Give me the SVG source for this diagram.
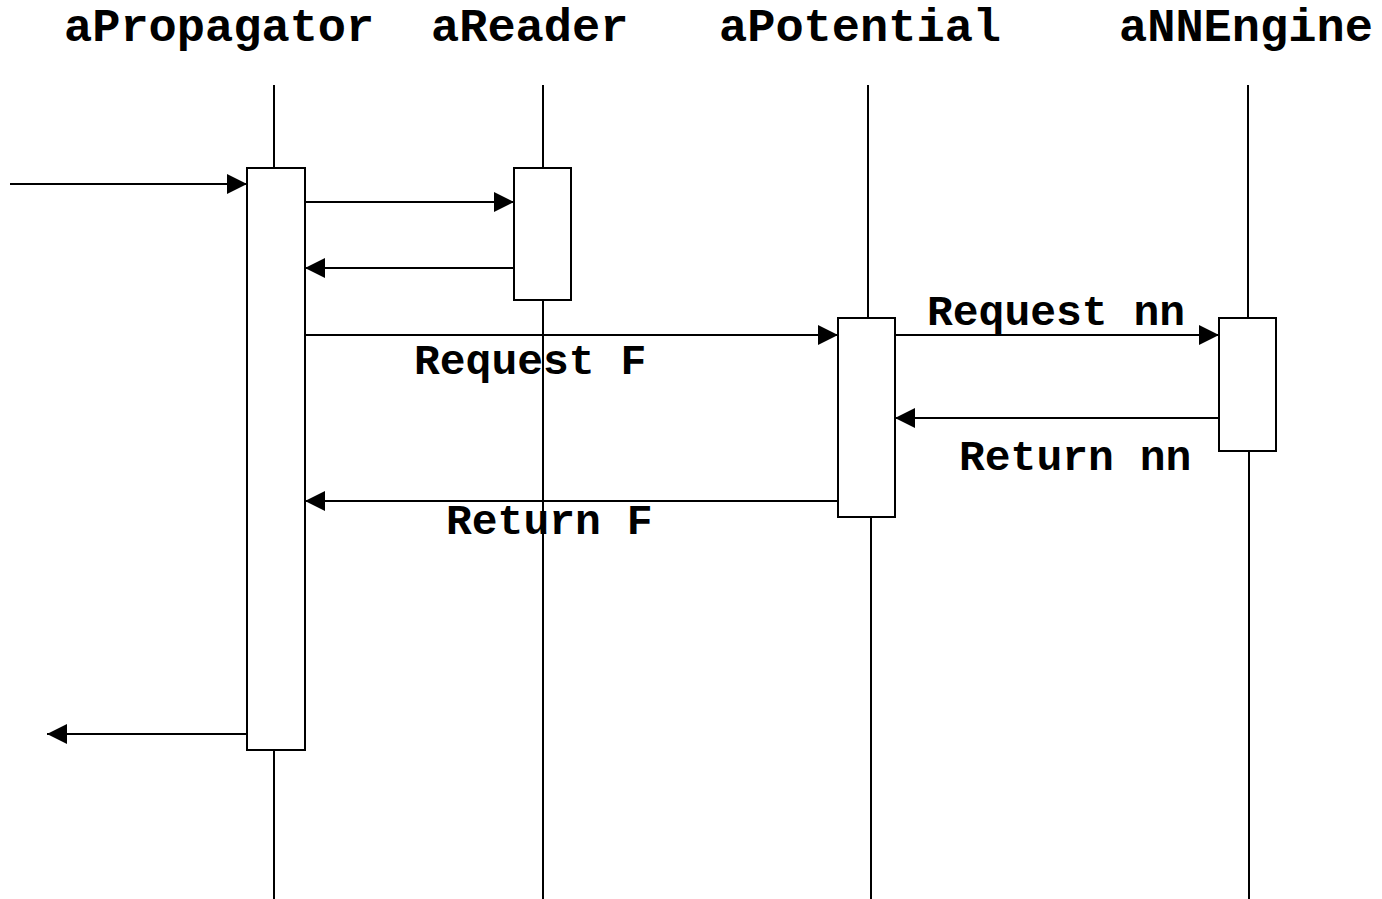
<svg xmlns="http://www.w3.org/2000/svg" width="1382" height="899" viewBox="0 0 1382 899">
  <style>
    .head { font-family: "Liberation Mono", "Courier New", monospace; font-weight: bold; font-size: 47px; fill: #000; }
    .lbl { font-family: "Liberation Mono", "Courier New", monospace; font-weight: bold; font-size: 43px; fill: #000; }
    .life { stroke: #000; stroke-width: 2; fill: none; }
    .act { stroke: #000; stroke-width: 2; fill: #fff; }
    .msg { stroke: #000; stroke-width: 2; fill: none; marker-end: url(#arrow); }
  </style>
  <defs>
    <marker id="arrow" viewBox="0 0 20 20" refX="20" refY="10" markerWidth="20" markerHeight="20" markerUnits="userSpaceOnUse" orient="auto">
      <path d="M0,0 L20,10 L0,20 Z" fill="#000"/>
    </marker>
  </defs>
  <rect width="1382" height="899" fill="#fff"/>

  <!-- lifelines -->
  <g id="lifelines">
    <line class="life" x1="274" y1="85" x2="274" y2="168"/>
    <line class="life" x1="274" y1="750" x2="274" y2="899"/>
    <line class="life" x1="543" y1="85" x2="543" y2="899"/>
    <line class="life" x1="868" y1="85" x2="868" y2="318"/>
    <line class="life" x1="871" y1="517" x2="871" y2="899"/>
    <line class="life" x1="1248" y1="85" x2="1248" y2="318"/>
    <line class="life" x1="1249" y1="451" x2="1249" y2="899"/>
  </g>

  <g id="aPropagator">
    <text class="head" x="64" y="41">aPropagator</text>
    <rect class="act" x="247" y="168" width="58" height="582"/>
  </g>
  <g id="aReader">
    <text class="head" x="431" y="41">aReader</text>
    <rect class="act" x="514" y="168" width="57" height="132"/>
  </g>
  <g id="aPotential">
    <text class="head" x="719" y="41">aPotential</text>
    <rect class="act" x="838" y="318" width="57" height="199"/>
  </g>
  <g id="aNNEngine">
    <text class="head" x="1119" y="41">aNNEngine</text>
    <rect class="act" x="1219" y="318" width="57" height="133"/>
  </g>

  <!-- messages -->
  <g id="connectors">
    <line class="msg" x1="10" y1="184" x2="247" y2="184"/>
    <line class="msg" x1="305" y1="202" x2="514" y2="202"/>
    <line class="msg" x1="514" y1="268" x2="305" y2="268"/>
    <line class="msg" x1="305" y1="335" x2="838" y2="335"/>
    <line class="msg" x1="895" y1="335" x2="1219" y2="335"/>
    <line class="msg" x1="1219" y1="418" x2="895" y2="418"/>
    <line class="msg" x1="838" y1="501" x2="305" y2="501"/>
    <line class="msg" x1="247" y1="734" x2="47" y2="734"/>
    <text class="lbl" x="414" y="374">Request F</text>
    <text class="lbl" x="446" y="534">Return F</text>
    <text class="lbl" x="927" y="325">Request nn</text>
    <text class="lbl" x="959" y="470">Return nn</text>
  </g>
</svg>
